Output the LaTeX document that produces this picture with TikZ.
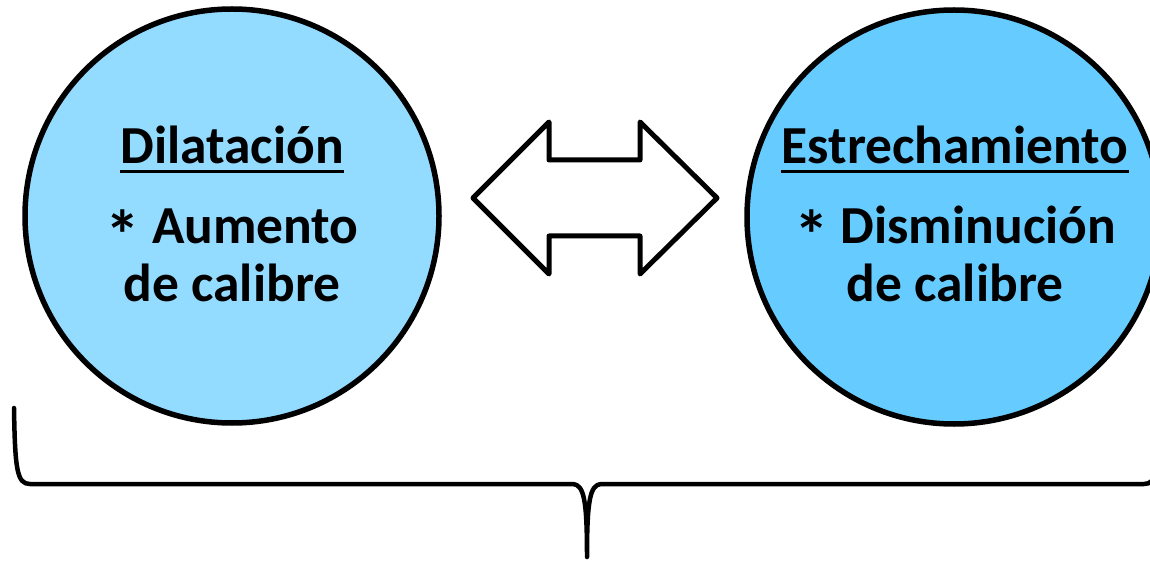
\documentclass[tikz,border=0pt]{standalone}
\usepackage{graphicx}
\usepackage{fontspec}
\setmainfont{Carlito}
\definecolor{leftfill}{HTML}{93DBFF}
\definecolor{rightfill}{HTML}{66CCFF}
\newcommand{\bigast}{\raisebox{-16pt}[0pt][0pt]{\scalebox{1.3}{*}}}
\begin{document}
\begin{tikzpicture}[x=1pt,y=-1pt,
  bubble/.style={circle,draw=black,line width=5.5pt,minimum size=414pt,inner sep=0pt},
  txt/.style={font=\fontsize{53.5}{58}\selectfont\bfseries,inner sep=0pt,anchor=base,align=center},
  uline/.style={line width=3pt},
  brace/.style={line width=4.5pt,line cap=round,line join=round}]
\useasboundingbox (0,0) rectangle (1150,561);
\clip (0,0) rectangle (1150,561);
\node[bubble,fill=leftfill] (L) at (232,216) {};
\node[bubble,fill=rightfill] (R) at (954,217) {};
% texts
\node[txt] (Lh) at (232,164) {Dilatación};
\draw[uline] ([yshift=-8pt]Lh.base west) -- ([yshift=-8pt]Lh.base east);
\node[txt] (L1) at (232,301) {\bigast{} Aumento\\de calibre};
\node[txt] (Rh) at (955,164) {Estrechamiento};
\draw[uline] ([yshift=-8pt]Rh.base west) -- ([yshift=-8pt]Rh.base east);
\node[txt] (R1) at (955,301) {\bigast{} Disminución\\de calibre};
% double arrow
\draw[line width=5pt,line join=round,fill=white]
  (473,198) -- (549,122) -- (549,160) -- (640,160) -- (640,122) -- (717,198)
  -- (640,274) -- (640,236) -- (549,236) -- (549,274) -- cycle;
% brace
\coordinate (bl) at (14,408);
\coordinate (bm) at (587,557);
\coordinate (br) at (1160,408);
\draw[brace] (bl) .. controls (15,470) and (17,484) .. (30,484) -- (573,484)
  .. controls (584,485) and (587,500) .. (bm)
  .. controls (587,500) and (590,485) .. (601,484) -- (1144,484)
  .. controls (1157,484) and (1159,470) .. (br);
\end{tikzpicture}
\end{document}
